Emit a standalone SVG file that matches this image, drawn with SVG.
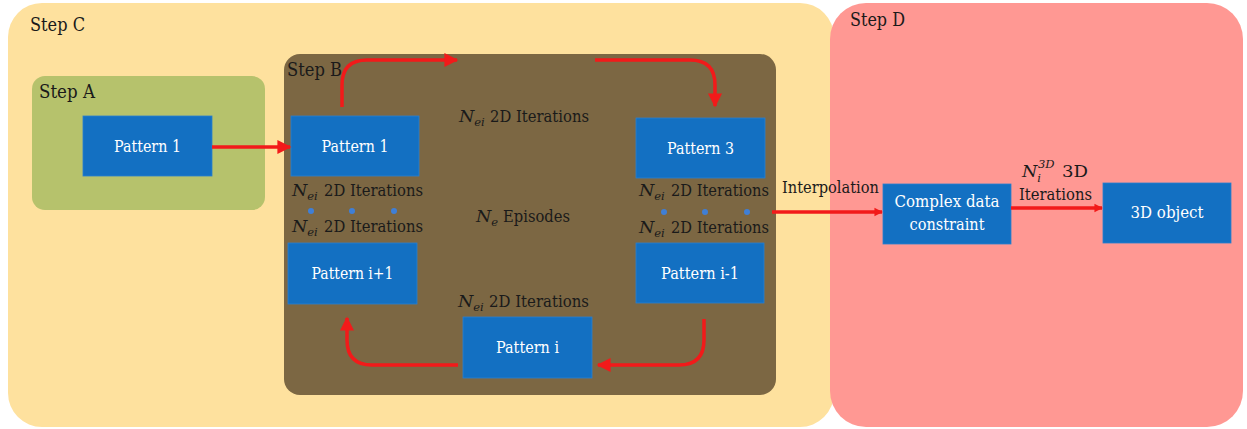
<svg xmlns="http://www.w3.org/2000/svg" width="1247" height="429" viewBox="0 0 1247 429">
  <defs>
    <style>
      text { font-family: "DejaVu Serif", serif; }
      .lbl { font-size: 17.5px; fill: #1a1a1a; }
      .step { font-size: 19px; fill: #1a1a1a; }
      .box { fill: #1370C2; stroke: #2a7fcf; stroke-width: 0.8; }
      .btxt { font-size: 17.5px; fill: #ffffff; text-anchor: middle; }
      .var { font-style: italic; font-size: 17.5px; fill: #1a1a1a; }
      .sub { font-style: italic; font-size: 11.5px; }
      .flow { fill: none; stroke: #F21A1A; stroke-width: 3.5; }
      .dot { fill: #3F7FD6; }
    </style>
    <marker id="head" viewBox="0 0 10 10" refX="9" refY="5" markerWidth="4.6" markerHeight="4" orient="auto" markerUnits="strokeWidth">
      <path d="M0,0 L10,5 L0,10 Z" fill="#F21A1A"/>
    </marker>
    <marker id="headWide" viewBox="0 0 10 10" refX="9" refY="5" markerWidth="2.4" markerHeight="3" orient="auto" markerUnits="strokeWidth">
      <path d="M0,0 L10,5 L0,10 Z" fill="#F21A1A"/>
    </marker>
  </defs>

  <!-- Stage panels -->
  <g id="stepC">
    <rect x="8" y="3" width="826" height="424" rx="34" fill="#FEE19E"/>
    <text class="step" x="30" y="31" textLength="55" lengthAdjust="spacingAndGlyphs">Step C</text>
  </g>
  <g id="stepD">
    <rect x="830" y="3" width="413" height="424" rx="36" fill="#FF9893"/>
    <text class="step" x="850" y="26" textLength="55" lengthAdjust="spacingAndGlyphs">Step D</text>
  </g>
  <g id="stepA">
    <rect x="32" y="76" width="233" height="134" rx="13" fill="#B6C26C"/>
    <text class="step" x="39" y="98" textLength="56" lengthAdjust="spacingAndGlyphs">Step A</text>
  </g>
  <g id="stepB">
    <rect x="284" y="54" width="492" height="341" rx="16" fill="#7C6743"/>
    <text class="step" x="287" y="76" textLength="55" lengthAdjust="spacingAndGlyphs">Step B</text>
  </g>

  <!-- Pattern nodes -->
  <g id="patternA1">
    <rect class="box" x="83" y="116" width="129" height="60"/>
    <text class="btxt" x="147.5" y="152" textLength="67" lengthAdjust="spacingAndGlyphs">Pattern 1</text>
  </g>
  <g id="patternB1">
    <rect class="box" x="291" y="116" width="128" height="60"/>
    <text class="btxt" x="355" y="152" textLength="67" lengthAdjust="spacingAndGlyphs">Pattern 1</text>
  </g>
  <g id="pattern3">
    <rect class="box" x="636" y="118" width="129" height="60"/>
    <text class="btxt" x="700.5" y="154" textLength="67" lengthAdjust="spacingAndGlyphs">Pattern 3</text>
  </g>
  <g id="patternIm1">
    <rect class="box" x="636" y="243" width="128" height="60"/>
    <text class="btxt" x="700" y="279" textLength="78" lengthAdjust="spacingAndGlyphs">Pattern i-1</text>
  </g>
  <g id="patternI">
    <rect class="box" x="463" y="317" width="129" height="61"/>
    <text class="btxt" x="527.5" y="353" textLength="63" lengthAdjust="spacingAndGlyphs">Pattern i</text>
  </g>
  <g id="patternIp1">
    <rect class="box" x="288" y="243" width="129" height="61"/>
    <text class="btxt" x="352.5" y="279" textLength="82" lengthAdjust="spacingAndGlyphs">Pattern i+1</text>
  </g>
  <g id="constraint">
    <rect class="box" x="883" y="184" width="128" height="60"/>
    <text class="btxt" x="947" y="207" textLength="105" lengthAdjust="spacingAndGlyphs">Complex data</text>
    <text class="btxt" x="947" y="230" textLength="75" lengthAdjust="spacingAndGlyphs">constraint</text>
  </g>
  <g id="object3d">
    <rect class="box" x="1103" y="183" width="128" height="60"/>
    <text class="btxt" x="1167" y="218" textLength="73" lengthAdjust="spacingAndGlyphs">3D object</text>
  </g>

  <!-- Iteration labels: italic symbol with subscript, then the words -->
  <g id="labels">
    <text class="var" x="459" y="122">N<tspan class="sub" dy="4">ei</tspan></text>
    <text class="lbl" x="490" y="122" textLength="99" lengthAdjust="spacingAndGlyphs">2D Iterations</text>

    <text class="var" x="292" y="196">N<tspan class="sub" dy="4">ei</tspan></text>
    <text class="lbl" x="324" y="196" textLength="99" lengthAdjust="spacingAndGlyphs">2D Iterations</text>

    <text class="var" x="292" y="232">N<tspan class="sub" dy="4">ei</tspan></text>
    <text class="lbl" x="324" y="232" textLength="99" lengthAdjust="spacingAndGlyphs">2D Iterations</text>

    <text class="var" x="639" y="196">N<tspan class="sub" dy="4">ei</tspan></text>
    <text class="lbl" x="671" y="196" textLength="98" lengthAdjust="spacingAndGlyphs">2D Iterations</text>

    <text class="var" x="639" y="233">N<tspan class="sub" dy="4">ei</tspan></text>
    <text class="lbl" x="671" y="233" textLength="98" lengthAdjust="spacingAndGlyphs">2D Iterations</text>

    <text class="var" x="458" y="307">N<tspan class="sub" dy="4">ei</tspan></text>
    <text class="lbl" x="489" y="307" textLength="100" lengthAdjust="spacingAndGlyphs">2D Iterations</text>

    <text class="var" x="476" y="222">N<tspan class="sub" dy="4">e</tspan></text>
    <text class="lbl" x="503" y="222" textLength="67" lengthAdjust="spacingAndGlyphs">Episodes</text>

    <text class="lbl" x="782" y="193" textLength="97" lengthAdjust="spacingAndGlyphs">Interpolation</text>

    <text class="var" x="1022" y="177">N<tspan class="sub" dy="5">i</tspan><tspan class="sub" dy="-14" dx="-3">3D</tspan></text>
    <text class="lbl" x="1062" y="177" textLength="26" lengthAdjust="spacingAndGlyphs">3D</text>
    <text class="lbl" x="1019" y="200" textLength="73" lengthAdjust="spacingAndGlyphs">Iterations</text>
  </g>

  <!-- Ellipsis dots -->
  <g id="dots">
    <circle class="dot" cx="311" cy="211" r="3"/>
    <circle class="dot" cx="352" cy="211" r="3"/>
    <circle class="dot" cx="394" cy="211" r="3"/>
    <circle class="dot" cx="664" cy="212" r="3"/>
    <circle class="dot" cx="705" cy="212" r="3"/>
    <circle class="dot" cx="747" cy="212" r="3"/>
  </g>

  <!-- Connectors -->
  <g id="connectors">
    <path class="flow" d="M212,147 L290,147" marker-end="url(#head)"/>
    <path class="flow" d="M342,107 L342,85 Q342,60 367,60 L457,60" marker-end="url(#head)"/>
    <path class="flow" d="M595,60 L690,60 Q715,60 715,85 L715,106" marker-end="url(#head)"/>
    <path class="flow" d="M704,319 L704,340 Q704,365 679,365 L598,365" marker-end="url(#head)"/>
    <path class="flow" d="M458,365 L372,365 Q347,365 347,340 L347,318" marker-end="url(#head)"/>
    <path class="flow" d="M772,212 L882,212" stroke-width="7" marker-end="url(#headWide)"/>
    <path class="flow" d="M1011,208 L1102,208" stroke-width="9" marker-end="url(#headWide)"/>
  </g>
</svg>
